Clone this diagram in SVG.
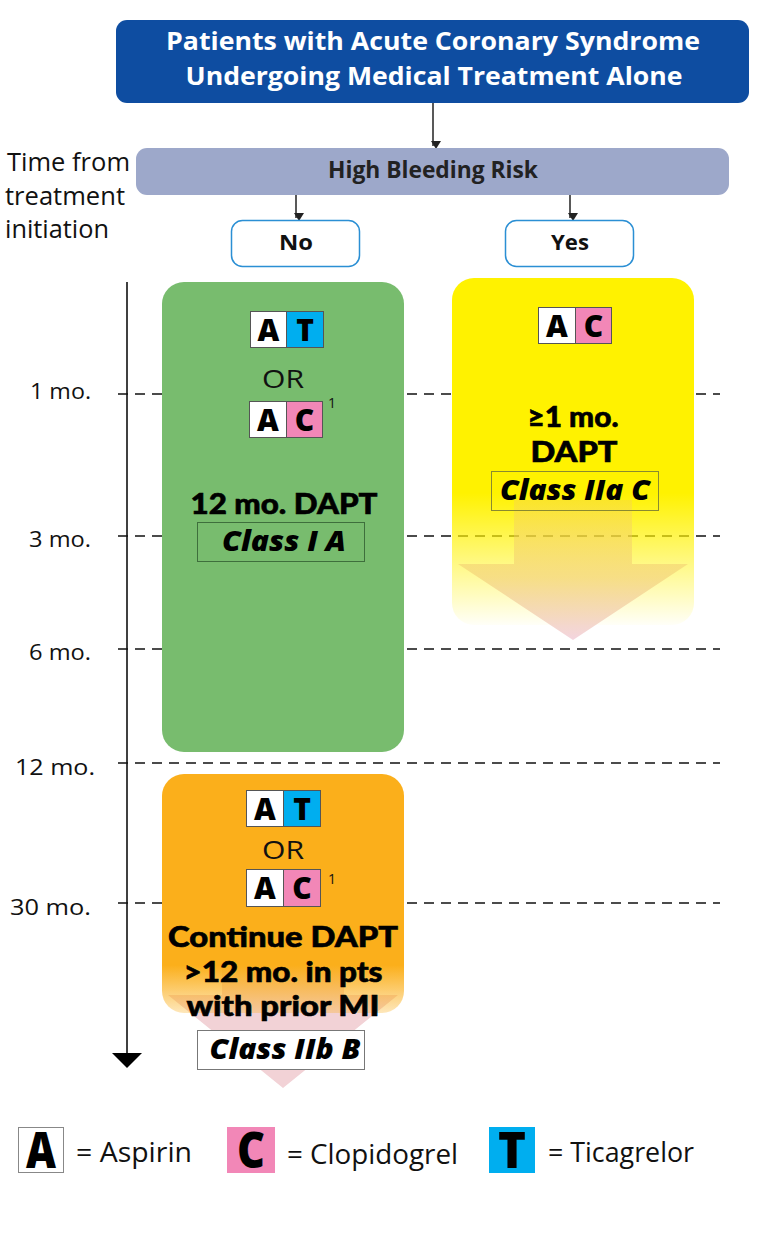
<svg xmlns="http://www.w3.org/2000/svg" width="768" height="1245" viewBox="0 0 768 1245">
<defs>
<style>
text{font-family:"Open Sans","Lato","Liberation Sans",sans-serif;}
.hdr{fill:#fff;font-weight:700;font-size:25px;text-anchor:middle;}
.lbl{fill:#111;font-size:26px;}
.tick{fill:#111;font-size:21px;text-anchor:end;}
.dash{stroke:#111;stroke-width:1.6;stroke-dasharray:10 7;fill:none;}
.tile{stroke:#555;stroke-width:1;}
.tl{font-weight:800;font-size:30px;text-anchor:middle;fill:#000;}
.or{font-size:25px;text-anchor:middle;fill:#111;}
.big{font-family:"Lato","Open Sans",sans-serif;font-weight:900;font-size:28px;text-anchor:middle;fill:#000;stroke:#000;stroke-width:0.6px;}
.cls{font-weight:800;font-style:italic;font-size:29px;text-anchor:middle;fill:#000;}
.sup{font-size:14px;fill:#111;}
.leg{font-size:27px;fill:#111;}
.legl{font-weight:800;font-size:50px;text-anchor:middle;fill:#000;}
.conn{stroke:#222;stroke-width:1.5;fill:none;}
</style>
<marker id="ah" markerWidth="10" markerHeight="10" refX="5" refY="8" orient="auto" markerUnits="userSpaceOnUse" viewBox="0 0 10 10">
<path d="M0,0 L10,0 L5,8 z" transform="rotate(-90 5 5)" fill="#222"/>
</marker>
<linearGradient id="yg" x1="0" y1="0" x2="0" y2="1">
<stop offset="0" stop-color="#FFF200"/>
<stop offset="0.62" stop-color="#FFF200"/>
<stop offset="1" stop-color="#FFF200" stop-opacity="0.03"/>
</linearGradient>
<linearGradient id="og" x1="0" y1="0" x2="0" y2="1">
<stop offset="0" stop-color="#FBAF1B"/>
<stop offset="0.8" stop-color="#FBAF1B"/>
<stop offset="1" stop-color="#FBAF1B" stop-opacity="0.3"/>
</linearGradient>
<linearGradient id="ag" x1="0" y1="0" x2="0" y2="1">
<stop offset="0" stop-color="#F2C66A" stop-opacity="0.3"/>
<stop offset="0.55" stop-color="#F0C870" stop-opacity="0.55"/>
<stop offset="1" stop-color="#F2D0DC" stop-opacity="0.9"/>
</linearGradient>
</defs>
<rect width="768" height="1245" fill="#fff"/>

<g id="timeline">
<line x1="127" y1="282" x2="127" y2="1056" stroke="#000" stroke-width="1.5"/>
<path d="M112,1053 L142,1053 L127,1068 z" fill="#000"/>
<line class="dash" x1="118" y1="394" x2="720" y2="394"/>
<line class="dash" x1="118" y1="536" x2="720" y2="536"/>
<line class="dash" x1="118" y1="649" x2="720" y2="649"/>
<line class="dash" x1="118" y1="763" x2="720" y2="763"/>
<line class="dash" x1="118" y1="903" x2="720" y2="903"/>
<text class="tick" x="91" y="399" textLength="61" lengthAdjust="spacingAndGlyphs">1 mo.</text>
<text class="tick" x="91" y="547" textLength="62" lengthAdjust="spacingAndGlyphs">3 mo.</text>
<text class="tick" x="91" y="660" textLength="62" lengthAdjust="spacingAndGlyphs">6 mo.</text>
<text class="tick" x="95" y="775" textLength="80" lengthAdjust="spacingAndGlyphs">12 mo.</text>
<text class="tick" x="91" y="915" textLength="81" lengthAdjust="spacingAndGlyphs">30 mo.</text>
<text class="lbl" x="7" y="171" textLength="123" lengthAdjust="spacingAndGlyphs">Time from</text>
<text class="lbl" x="5" y="205" textLength="120" lengthAdjust="spacingAndGlyphs">treatment</text>
<text class="lbl" x="5" y="238" textLength="104" lengthAdjust="spacingAndGlyphs">initiation</text>
</g>

<g id="connectors">
<line class="conn" x1="433" y1="103" x2="433" y2="146" marker-end="url(#ah)"/>
<line class="conn" x1="296" y1="195" x2="296" y2="218" marker-end="url(#ah)"/>
<line class="conn" x1="570" y1="195" x2="570" y2="218" marker-end="url(#ah)"/>
</g>

<g id="header">
<rect x="116" y="20" width="633" height="83" rx="11" fill="#0E4DA1"/>
<text class="hdr" x="433" y="50" textLength="534" lengthAdjust="spacingAndGlyphs">Patients with Acute Coronary Syndrome</text>
<text class="hdr" x="434" y="85" textLength="497" lengthAdjust="spacingAndGlyphs">Undergoing Medical Treatment Alone</text>
</g>

<g id="bleeding">
<rect x="136" y="148" width="593" height="47" rx="11" fill="#9DA8CA"/>
<text x="433" y="178" text-anchor="middle" font-weight="700" font-size="23" fill="#222" textLength="210" lengthAdjust="spacingAndGlyphs">High Bleeding Risk</text>
</g>

<g id="no">
<rect x="231.5" y="220.5" width="128" height="46" rx="11" fill="#fff" stroke="#2B8FD4" stroke-width="1.5"/>
<text x="296" y="250" text-anchor="middle" font-weight="700" font-size="22" fill="#111" textLength="34" lengthAdjust="spacingAndGlyphs">No</text>
</g>
<g id="yes">
<rect x="505.5" y="220.5" width="128" height="46" rx="11" fill="#fff" stroke="#2B8FD4" stroke-width="1.5"/>
<text x="570" y="250" text-anchor="middle" font-weight="700" font-size="22" fill="#111" textLength="38" lengthAdjust="spacingAndGlyphs">Yes</text>
</g>

<g id="green">
<rect x="162" y="282" width="242" height="470" rx="22" fill="#78BC6E"/>
<rect class="tile" x="250.5" y="311.5" width="36" height="36" fill="#fff"/>
<rect class="tile" x="286.5" y="311.5" width="37" height="36" fill="#00AEEF"/>
<text class="tl" x="268.5" y="341">A</text>
<text class="tl" x="305" y="341">T</text>
<text class="or" x="283" y="388" textLength="42" lengthAdjust="spacingAndGlyphs">OR</text>
<rect class="tile" x="249.5" y="401.5" width="37" height="36" fill="#fff"/>
<rect class="tile" x="286.5" y="401.5" width="36" height="36" fill="#F287B7"/>
<text class="tl" x="268" y="431">A</text>
<text class="tl" x="304.5" y="431">C</text>
<text class="sup" x="328" y="408">1</text>
<text class="big" x="284" y="514" textLength="187" lengthAdjust="spacingAndGlyphs">12 mo. DAPT</text>
<rect x="197.5" y="522.5" width="167" height="39" fill="none" stroke="#3E6E3C" stroke-width="1"/>
<text class="cls" x="284" y="551" textLength="124" lengthAdjust="spacingAndGlyphs">Class I A</text>
</g>

<g id="yellow">
<rect x="452" y="278" width="242" height="347" rx="22" fill="url(#yg)"/>
<path d="M514,500 L632,500 L632,564 L688,564 L573,640 L458,564 L514,564 z" fill="url(#ag)"/>
<rect class="tile" x="538.5" y="307.5" width="37" height="36" fill="#fff"/>
<rect class="tile" x="575.5" y="307.5" width="36" height="36" fill="#F287B7"/>
<text class="tl" x="557" y="337">A</text>
<text class="tl" x="593.5" y="337">C</text>
<text class="big" x="573" y="427" textLength="91" lengthAdjust="spacingAndGlyphs">≥1 mo.</text>
<text class="big" x="574" y="462" textLength="87" lengthAdjust="spacingAndGlyphs">DAPT</text>
<rect x="491.5" y="471.5" width="167" height="39" fill="none" stroke="#8A8A30" stroke-width="1"/>
<text class="cls" x="575" y="500" textLength="150" lengthAdjust="spacingAndGlyphs">Class IIa C</text>
</g>

<g id="orange">
<path d="M222,930 L344,930 L344,995 L398,995 L283,1088 L168,995 L222,995 z" fill="#F2D2D6"/>
<rect x="162" y="774" width="242" height="239" rx="22" fill="url(#og)"/>
<rect class="tile" x="246.5" y="790.5" width="37" height="36" fill="#fff"/>
<rect class="tile" x="283.5" y="790.5" width="37" height="36" fill="#00AEEF"/>
<text class="tl" x="265" y="820">A</text>
<text class="tl" x="302" y="820">T</text>
<text class="or" x="283" y="859" textLength="42" lengthAdjust="spacingAndGlyphs">OR</text>
<rect class="tile" x="246.5" y="869.5" width="37" height="37" fill="#fff"/>
<rect class="tile" x="283.5" y="869.5" width="37" height="37" fill="#F287B7"/>
<text class="tl" x="265" y="899">A</text>
<text class="tl" x="302" y="899">C</text>
<text class="sup" x="328" y="884">1</text>
<text class="big" x="283" y="947" textLength="230" lengthAdjust="spacingAndGlyphs">Continue DAPT</text>
<text class="big" x="283" y="982" textLength="199" lengthAdjust="spacingAndGlyphs">&gt;12 mo. in pts</text>
<text class="big" x="283" y="1016" textLength="193" lengthAdjust="spacingAndGlyphs">with prior MI</text>
<rect x="197.5" y="1030.5" width="167" height="39" fill="#fff" stroke="#777" stroke-width="1"/>
<text class="cls" x="285" y="1059" textLength="151" lengthAdjust="spacingAndGlyphs">Class IIb B</text>
</g>

<g id="legend">
<rect x="18.5" y="1127.5" width="45" height="45" fill="#fff" stroke="#888" stroke-width="1"/>
<text class="legl" x="41" y="1168" textLength="30" lengthAdjust="spacingAndGlyphs">A</text>
<text class="leg" x="76" y="1162" textLength="116" lengthAdjust="spacingAndGlyphs">= Aspirin</text>
<rect x="227" y="1127" width="48" height="46" fill="#F287B7"/>
<text class="legl" x="251" y="1168" textLength="28" lengthAdjust="spacingAndGlyphs">C</text>
<text class="leg" x="287" y="1164" textLength="171" lengthAdjust="spacingAndGlyphs">= Clopidogrel</text>
<rect x="489" y="1127" width="46" height="46" fill="#00AEEF"/>
<text class="legl" x="512" y="1168" textLength="28" lengthAdjust="spacingAndGlyphs">T</text>
<text class="leg" x="548" y="1162" textLength="146" lengthAdjust="spacingAndGlyphs">= Ticagrelor</text>
</g>
</svg>
